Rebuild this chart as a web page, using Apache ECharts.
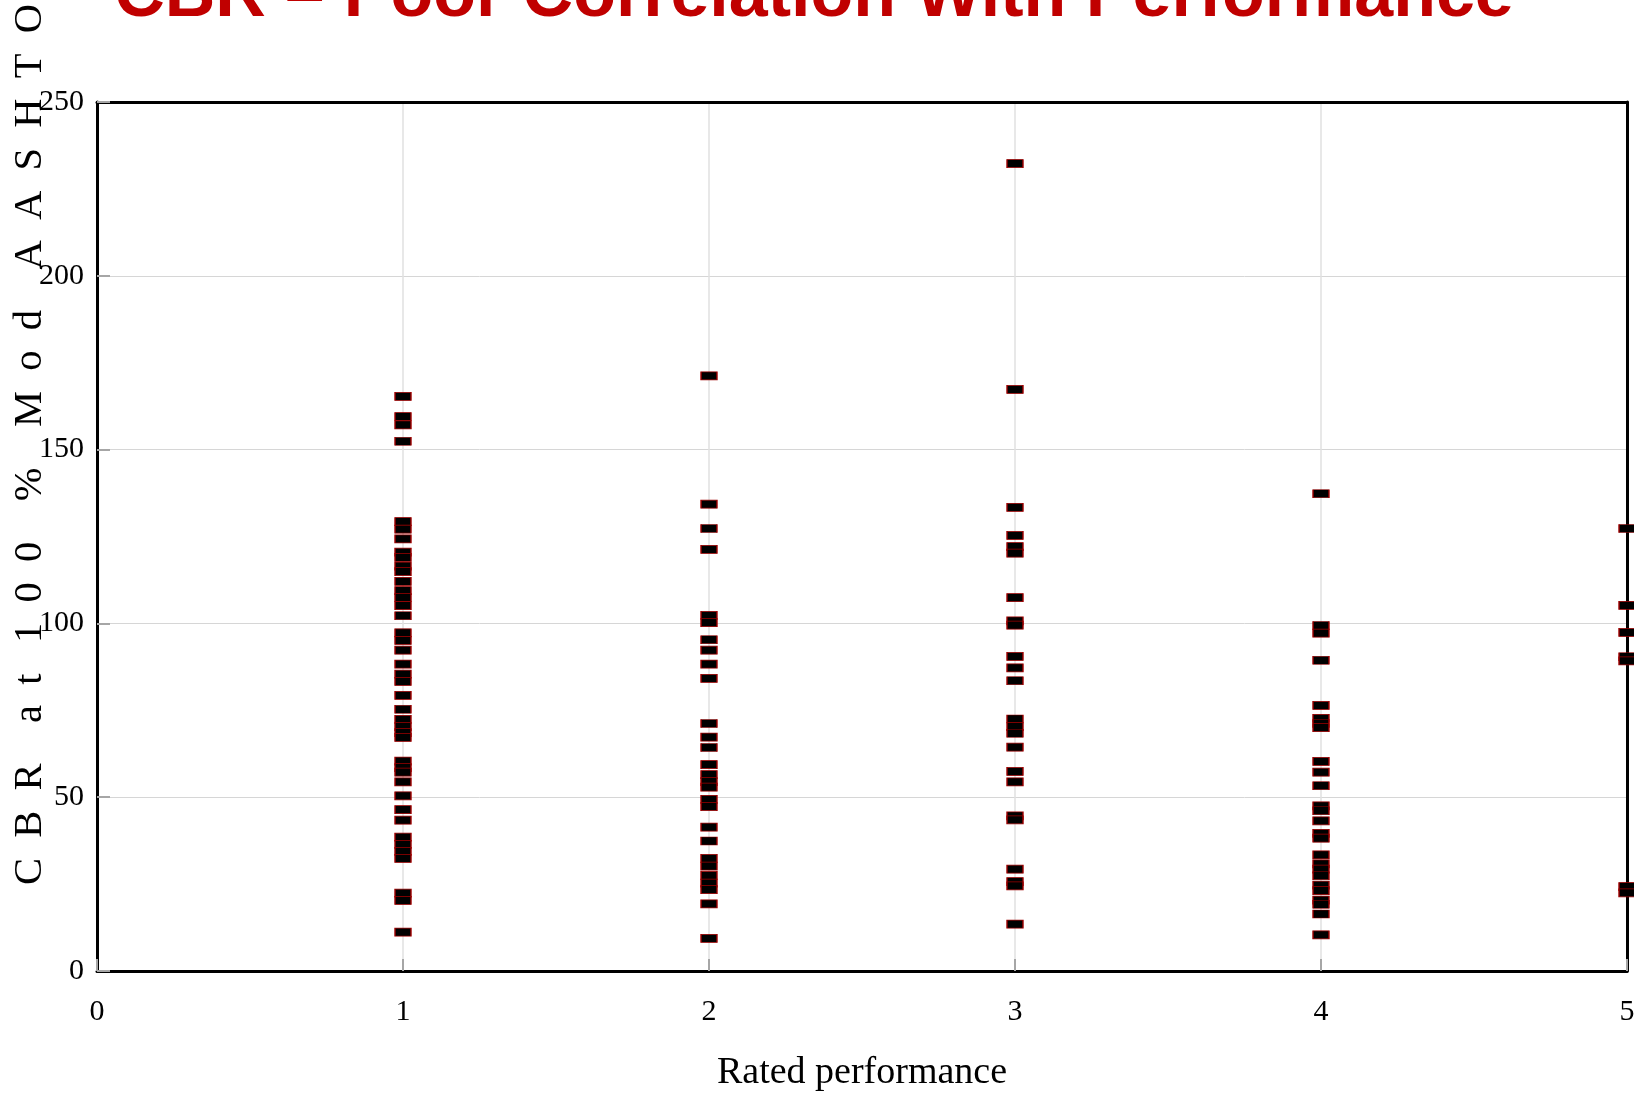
<!DOCTYPE html>
<html>
<head>
<meta charset="utf-8">
<script src="https://cdn.jsdelivr.net/npm/echarts@6/dist/echarts.min.js"></script>
<style>
html,body{margin:0;padding:0;background:#fff;overflow:hidden;}
#chart{width:1634px;height:1093px;}
</style>
</head>
<body>
<div id="chart"></div>
<script>
// Data: CBR at 100% Mod AASHTO grouped by rated performance
var ratings = [1, 2, 3, 4, 5];
var cbrRating1 = [165.3, 159.5, 157.1, 152.4, 129.3, 127.1, 124.3, 120.5, 119.0, 116.5, 114.9, 112.1, 109.4, 107.4, 105.1, 102.2,
  97.3, 95.1, 92.3, 88.3, 85.4, 83.3, 79.3, 75.3, 72.4, 70.3, 68.6, 67.2, 60.4, 58.5, 57.2, 54.4, 50.4, 46.4, 43.4,
  38.5, 36.4, 34.4, 32.4, 22.4, 20.3, 11.2];
var cbrRating2 = [171.2, 134.3, 127.3, 121.3, 102.3, 100.2, 95.3, 92.3, 88.3, 84.2, 71.2, 67.3, 64.3, 59.4, 56.5, 54.5,
  52.9, 49.4, 47.3, 41.4, 37.4, 32.4, 30.2, 27.5, 25.3, 23.4, 19.3, 9.4];
var cbrRating3 = [232.3, 167.3, 133.4, 125.3, 122.1, 120.2, 107.4, 100.7, 99.5, 90.5, 87.2, 83.5, 72.5, 70.3, 68.4, 64.4,
  57.4, 54.4, 44.6, 43.5, 29.3, 25.7, 24.5, 13.5];
var cbrRating4 = [137.3, 99.4, 97.2, 89.4, 76.4, 72.7, 71.2, 70.0, 60.3, 57.2, 53.3, 47.5, 46.1, 43.2, 39.6, 38.2, 33.4,
  30.8, 29.3, 27.4, 24.7, 23.1, 20.4, 19.2, 16.4, 10.4];
var cbrRating5 = [127.3, 105.2, 97.4, 90.4, 89.2, 24.3, 22.5];
var xTicks = [0, 1, 2, 3, 4, 5];
var yTicks = [0, 50, 100, 150, 200, 250];
var titleText = 'CBR \u2013 Poor Correlation With Performance';
var yTitleText = 'C  B  R    a  t   1  0  0    %    M  o  d    A  A  S  H  T  O';
var xTitleText = 'Rated performance';

var groups = [cbrRating1, cbrRating2, cbrRating3, cbrRating4, cbrRating5];
var points = [];
groups.forEach(function (arr, i) {
  arr.forEach(function (v) { points.push([ratings[i], v]); });
});

var serif = '"Liberation Serif", "Times New Roman", serif';
var xMin = xTicks[0], xMax = xTicks[xTicks.length - 1];
var yMin = yTicks[0], yMax = yTicks[yTicks.length - 1];
var chart = echarts.init(document.getElementById('chart'), null, {renderer: 'canvas', width: 1634, height: 1093});
chart.setOption({
  backgroundColor: '#ffffff',
  animation: false,
  grid: {left: 97, right: 7, top: 102, bottom: 122, show: false, containLabel: false, outerBoundsMode: 'none'},
  graphic: [
    {type: 'text', x: 814, y: -3, z: 100,
      style: {text: titleText, font: 'bold 70px "Liberation Sans", Arial, sans-serif', fill: '#C00000',
        textAlign: 'center', textVerticalAlign: 'middle', align: 'center', verticalAlign: 'middle'}},
    {type: 'text', x: 30, y: 885, rotation: Math.PI / 2, z: 100,
      style: {text: yTitleText, font: '40.5px ' + serif, fill: '#000',
        textAlign: 'left', textVerticalAlign: 'middle', align: 'left', verticalAlign: 'middle'}}
  ],
  xAxis: [{
    type: 'value', min: xMin, max: xMax, interval: 1, position: 'bottom',
    name: xTitleText, nameLocation: 'middle', nameGap: 83,
    nameTextStyle: {fontFamily: serif, fontSize: 38, color: '#000'},
    axisLine: {show: true, onZero: false, lineStyle: {color: '#000', width: 3}},
    axisTick: {show: true, inside: true, length: 12, lineStyle: {color: '#a6a6a6', width: 2}},
    axisLabel: {fontFamily: serif, fontSize: 30, color: '#000', margin: 26},
    splitLine: {show: true, lineStyle: {color: '#e0e0e0', width: 1.5}}
  }, {
    type: 'value', min: xMin, max: xMax, interval: 1, position: 'top',
    axisLine: {show: true, onZero: false, lineStyle: {color: '#000', width: 3}},
    axisTick: {show: false}, axisLabel: {show: false}, splitLine: {show: false}
  }],
  yAxis: [{
    type: 'value', min: yMin, max: yMax, interval: 50, position: 'left',
    axisLine: {show: true, onZero: false, lineStyle: {color: '#000', width: 3}},
    axisTick: {show: true, inside: true, length: 13, lineStyle: {color: '#a6a6a6', width: 2}},
    axisLabel: {fontFamily: serif, fontSize: 30, color: '#000', margin: 13},
    splitLine: {show: true, lineStyle: {color: '#d6d6d6', width: 1}}
  }, {
    type: 'value', min: yMin, max: yMax, interval: 50, position: 'right',
    axisLine: {show: true, onZero: false, lineStyle: {color: '#000', width: 3}},
    axisTick: {show: false}, axisLabel: {show: false}, splitLine: {show: false}
  }],
  series: [{
    type: 'scatter', data: points, clip: false, z: 10, xAxisIndex: 0, yAxisIndex: 0,
    symbol: 'rect', symbolSize: [16, 8],
    itemStyle: {color: '#000', borderColor: '#a00000', borderWidth: 1, opacity: 1}
  }]
});
</script>
</body>
</html>
